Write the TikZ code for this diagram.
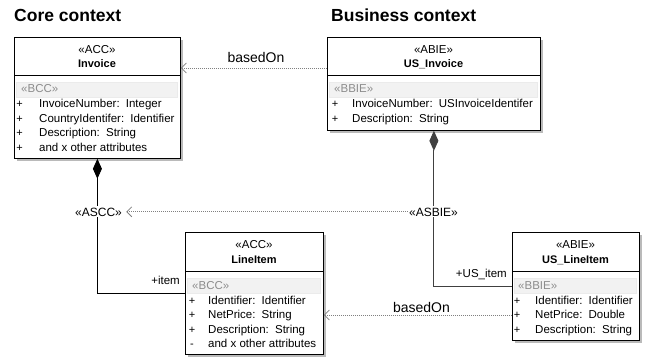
\documentclass[tikz,border=0pt]{standalone}
\usepackage{fontspec}
\setmainfont{Liberation Sans}
\usetikzlibrary{arrows.meta,shadows}
\tikzset{
  classbox/.style={draw=black, line width=0.8pt, fill=white, inner sep=0pt, anchor=north west,
    drop shadow={shadow xshift=2.5pt, shadow yshift=-2.5pt, fill=black!45, opacity=0.6}},
  stereoband/.style={draw=black!8, fill=black!5, line width=0.5pt},
  attr/.style={anchor=base west, inner sep=0pt, font=\fontsize{11.5}{13}\selectfont},
  attrsign/.style={anchor=base, inner sep=0pt, font=\fontsize{11}{13}\selectfont},
  graystereo/.style={attr, text=black!45},
  stereo/.style={anchor=base, inner sep=0pt, font=\fontsize{11.5}{13}\selectfont},
  clsname/.style={anchor=base, inner sep=0pt, font=\fontsize{11}{13}\selectfont\bfseries},
  title/.style={anchor=base west, inner sep=0pt, font=\fontsize{17.5}{20}\selectfont\bfseries},
  basedon/.style={draw=black!50, line width=0.8pt, dash pattern=on 0.8pt off 1.2pt,
    -{Straight Barb[length=5pt,width=10pt,line width=0.8pt]}},
  compo/.style={line width=0.9pt, {Diamond[length=20pt,width=9pt]}-},
  rolelbl/.style={anchor=base east, inner sep=0pt, font=\fontsize{11.5}{13}\selectfont},
  linelbl/.style={anchor=base, fill=white, inner sep=1.2pt, font=\fontsize{12}{14}\selectfont},
}

\begin{document}
\begin{tikzpicture}[x=1pt, y=-1pt]
			%%%%% START %%%%%
			\useasboundingbox (0,0) rectangle (645,358);
			
			\node[title] (coretitle) at (14, 21.5) {Core context};
			\node[title] (bustitle) at (331, 21.5) {Business context};
			
			% classes
			\node[classbox, minimum width=166pt, minimum height=121pt] (invoice) at (14, 37) {};
			\node[classbox, minimum width=213pt, minimum height=93pt] (usinvoice) at (327, 37) {};
			\node[classbox, minimum width=138pt, minimum height=122pt] (lineitem) at (185, 232) {};
			\node[classbox, minimum width=127pt, minimum height=108pt] (uslineitem) at (512, 232) {};
			
			\draw[line width=0.8pt] (14, 75) -- (180, 75);
			\draw[line width=0.8pt] (327, 75) -- (540, 75);
			\draw[line width=0.8pt] (185, 271) -- (323, 271);
			\draw[line width=0.8pt] (512, 271) -- (639, 271);
			
			\draw[stereoband] (16.5, 82) rectangle (177.5, 97);
			\draw[stereoband] (329.5, 82) rectangle (537.5, 97);
			\draw[stereoband] (187.5, 278) rectangle (320.5, 293);
			\draw[stereoband] (514.5, 278) rectangle (636.5, 293);
			
			% Invoice
			\node[stereo] (invst) at (97, 53.5) {«ACC»};
			\node[clsname] (invname) at (97, 68) {Invoice};
			\node[graystereo] (invbcc) at (21, 93) {«BCC»};
			\node[attrsign] (invs1) at (19.5, 108) {+};
			\node[attr] (inva1) at (39, 108) {InvoiceNumber:\, Integer};
			\node[attrsign] (invs2) at (19.5, 122.5) {+};
			\node[attr] (inva2) at (39, 122.5) {CountryIdentifer:\, Identifier};
			\node[attrsign] (invs3) at (19.5, 137) {+};
			\node[attr] (inva3) at (39, 137) {Description:\, String};
			\node[attrsign] (invs4) at (19.5, 151.5) {+};
			\node[attr] (inva4) at (39, 151.5) {and x other attributes};
			
			% US_Invoice
			\node[stereo] (usinvst) at (433.5, 53.5) {«ABIE»};
			\node[clsname] (usinvname) at (433.5, 68) {US\_Invoice};
			\node[graystereo] (usinvbbie) at (334, 93) {«BBIE»};
			\node[attrsign] (usinvs1) at (335, 108) {+};
			\node[attr] (usinva1) at (352, 108) {InvoiceNumber:\, USInvoiceIdentifer};
			\node[attrsign] (usinvs2) at (335, 122.5) {+};
			\node[attr] (usinva2) at (352, 122.5) {Description:\, String};
			
			% LineItem
			\node[stereo] (lnst) at (254, 248) {«ACC»};
			\node[clsname] (lnname) at (254, 263) {LineItem};
			\node[graystereo] (lnbcc) at (192, 289.5) {«BCC»};
			\node[attrsign] (lns1) at (192, 304) {+};
			\node[attr] (lna1) at (208, 304) {Identifier:\, Identifier};
			\node[attrsign] (lns2) at (192, 318.5) {+};
			\node[attr] (lna2) at (208, 318.5) {NetPrice:\, String};
			\node[attrsign] (lns3) at (192, 333) {+};
			\node[attr] (lna3) at (208, 333) {Description:\, String};
			\node[attrsign] (lns4) at (192, 347.5) {-};
			\node[attr] (lna4) at (208, 347.5) {and x other attributes};
			
			% US_LineItem
			\node[stereo] (uslnst) at (575.5, 248) {«ABIE»};
			\node[clsname] (uslnname) at (575.5, 263) {US\_LineItem};
			\node[graystereo] (uslnbbie) at (518, 289.5) {«BBIE»};
			\node[attrsign] (uslns1) at (517, 304) {+};
			\node[attr] (uslna1) at (535, 304) {Identifier:\, Identifier};
			\node[attrsign] (uslns2) at (517, 318.5) {+};
			\node[attr] (uslna2) at (535, 318.5) {NetPrice:\, Double};
			\node[attrsign] (uslns3) at (517, 333) {+};
			\node[attr] (uslna3) at (535, 333) {Description:\, String};
			
			% compositions
			\draw[compo, color=black] (invoice.south) |- (lineitem.west);
			\draw[compo, color=black!75] (usinvoice.south) |- (uslineitem.west);
			\node[rolelbl] (itemrole) at (180, 284) {+item};
			\node[rolelbl] (usitemrole) at (507, 277) {+US\_item};
			
			% basedOn dependencies
			\coordinate (bofrom) at (327, 68);
			\coordinate (bofromln) at (512, 315);
			\draw[basedon] (bofrom) -- (invoice.east |- bofrom);
			\draw[basedon] (bofromln) -- (lineitem.east |- bofromln);
			\node[linelbl, fill=none, font=\fontsize{14}{16}\selectfont] (bolbl) at (256, 63) {basedOn};
			\node[linelbl, fill=none, font=\fontsize{14}{16}\selectfont] (bolblln) at (421.5, 312) {basedOn};
			
			\node[linelbl] (ascc) at (98.5, 216) {«ASCC»};
			\node[linelbl] (asbie) at (433.5, 216) {«ASBIE»};
			\draw[basedon, shorten >=3pt] (asbie.west) -- (ascc.east);
			
			%%%%% END %%%%%
		\end{tikzpicture}
\end{document}
